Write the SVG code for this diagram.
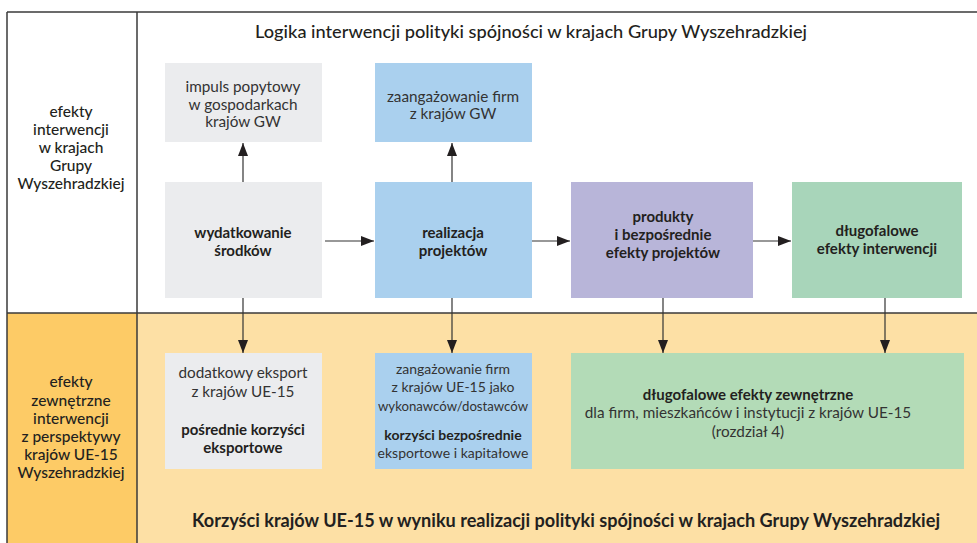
<svg xmlns="http://www.w3.org/2000/svg" width="977" height="543" viewBox="0 0 977 543">
<style>
text{font-family:Lato,"Open Sans","Liberation Sans",sans-serif;fill:#231f20;text-anchor:middle}
.hd{font-size:15.5px;font-weight:500}
.rg{font-size:15.3px;font-weight:400;fill:#333}
.bd{font-size:15px;font-weight:700}
.sm{font-size:14px;font-weight:400;fill:#333}
.smb{font-size:14px;font-weight:700}
.title{font-size:18px;font-weight:500}
.btitle{font-size:18px;font-weight:700}
.frame{stroke:#3a3a3a;stroke-width:1.5;fill:none}
.conn{stroke:#333;stroke-width:1.2;fill:none;marker-end:url(#ah)}
</style>
<defs>
<marker id="ah" markerUnits="userSpaceOnUse" markerWidth="14" markerHeight="10" refX="13" refY="5" orient="auto">
<path d="M0,0 L13,5 L0,10 z" fill="#231f20"/>
</marker>
</defs>
<rect x="0" y="0" width="977" height="543" fill="#ffffff"/>
<g id="backgrounds">
<rect x="7" y="313" width="970" height="230" fill="#fde0a5"/>
<rect x="7" y="313" width="130" height="230" fill="#fdcb66"/>
</g>
<g id="frame">
<line class="frame" x1="7" y1="12" x2="977" y2="12"/>
<line class="frame" x1="7" y1="313" x2="977" y2="313"/>
<line class="frame" x1="7" y1="12" x2="7" y2="543"/>
<line class="frame" x1="137" y1="12" x2="137" y2="543"/>
</g>
<g id="title-top">
<text class="title" x="531" y="38" textLength="552" lengthAdjust="spacingAndGlyphs">Logika interwencji polityki spójności w krajach Grupy Wyszehradzkiej</text>
</g>
<g id="label-top">
<text class="hd" x="71" y="117">efekty</text>
<text class="hd" x="71" y="135">interwencji</text>
<text class="hd" x="71" y="153">w krajach</text>
<text class="hd" x="71" y="171">Grupy</text>
<text class="hd" x="71" y="189">Wyszehradzkiej</text>
</g>
<g id="label-bottom">
<text class="hd" x="71" y="387">efekty</text>
<text class="hd" x="71" y="406">zewnętrzne</text>
<text class="hd" x="71" y="424">interwencji</text>
<text class="hd" x="71" y="442">z perspektywy</text>
<text class="hd" x="71" y="460">krajów UE-15</text>
<text class="hd" x="71" y="478">Wyszehradzkiej</text>
</g>
<g id="impuls">
<rect x="165" y="63" width="157" height="79" fill="#ebecee"/>
<text class="rg" x="243" y="92">impuls popytowy</text>
<text class="rg" x="243" y="110">w gospodarkach</text>
<text class="rg" x="243" y="127">krajów GW</text>
</g>
<g id="zaangazowanie-gw">
<rect x="375" y="63" width="157" height="79" fill="#aad0ee"/>
<text class="rg" x="453" y="102">zaangażowanie firm</text>
<text class="rg" x="453" y="119">z krajów GW</text>
</g>
<g id="wydatkowanie">
<rect x="165" y="182" width="157" height="116" fill="#ebecee"/>
<text class="bd" x="243" y="238">wydatkowanie</text>
<text class="bd" x="243" y="256">środków</text>
</g>
<g id="realizacja">
<rect x="375" y="182" width="157" height="116" fill="#aad0ee"/>
<text class="bd" x="453" y="238">realizacja</text>
<text class="bd" x="453" y="256">projektów</text>
</g>
<g id="produkty">
<rect x="571" y="182" width="182" height="116" fill="#b8b5d9"/>
<text class="bd" x="663" y="222">produkty</text>
<text class="bd" x="663" y="240">i bezpośrednie</text>
<text class="bd" x="663" y="258">efekty projektów</text>
</g>
<g id="dlugofalowe">
<rect x="792" y="182" width="170" height="116" fill="#a8d5ba"/>
<text class="bd" x="877" y="236">długofalowe</text>
<text class="bd" x="877" y="254">efekty interwencji</text>
</g>
<g id="eksport">
<rect x="165" y="353" width="157" height="116" fill="#ebecee"/>
<text class="rg" x="243" y="378">dodatkowy eksport</text>
<text class="rg" x="243" y="397">z krajów UE-15</text>
<text class="bd" x="243" y="435">pośrednie korzyści</text>
<text class="bd" x="243" y="453">eksportowe</text>
</g>
<g id="zaangazowanie-ue">
<rect x="375" y="353" width="157" height="116" fill="#aad0ee"/>
<text class="sm" x="453" y="374">zangażowanie firm</text>
<text class="sm" x="453" y="392">z krajów UE-15 jako</text>
<text class="sm" x="453" y="411" textLength="150" lengthAdjust="spacingAndGlyphs">wykonawców/dostawców</text>
<text class="smb" x="453" y="440">korzyści bezpośrednie</text>
<text class="sm" x="453" y="458">eksportowe i kapitałowe</text>
</g>
<g id="zewnetrzne">
<rect x="571" y="353" width="393" height="116" fill="#b3dbb7"/>
<text class="bd" x="748" y="400">długofalowe efekty zewnętrzne</text>
<text class="rg" x="748" y="418">dla firm, mieszkańców i instytucji z krajów UE-15</text>
<text class="rg" x="748" y="437">(rozdział 4)</text>
</g>
<g id="title-bottom">
<text class="btitle" x="566" y="527" textLength="748" lengthAdjust="spacingAndGlyphs">Korzyści krajów UE-15 w wyniku realizacji polityki spójności w krajach Grupy Wyszehradzkiej</text>
</g>
<g id="connectors">
<line class="conn" x1="325" y1="241" x2="374" y2="241"/>
<line class="conn" x1="532" y1="241" x2="570" y2="241"/>
<line class="conn" x1="753" y1="241" x2="791" y2="241"/>
<line class="conn" x1="243" y1="182" x2="243" y2="143"/>
<line class="conn" x1="452" y1="182" x2="452" y2="143"/>
<line class="conn" x1="243" y1="298" x2="243" y2="353"/>
<line class="conn" x1="452" y1="298" x2="452" y2="353"/>
<line class="conn" x1="663" y1="298" x2="663" y2="353"/>
<line class="conn" x1="885" y1="298" x2="885" y2="353"/>
</g>
</svg>
